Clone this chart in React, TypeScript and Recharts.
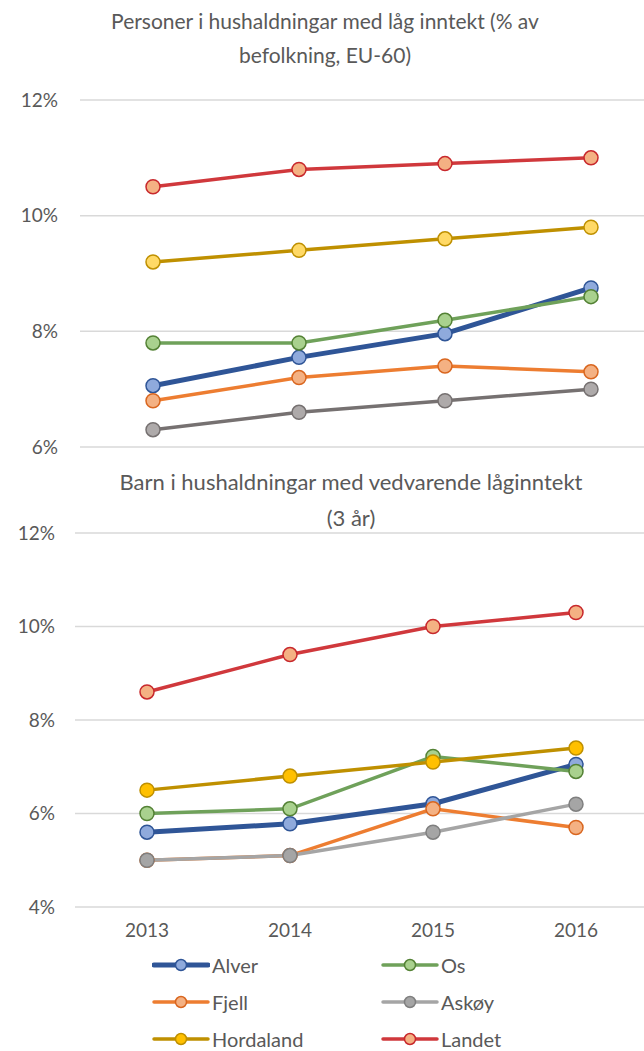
import { LineChart, Line, XAxis, YAxis, CartesianGrid } from 'recharts'

const years = ['2013', '2014', '2015', '2016']

// Personer i hushaldningar med låg inntekt (% av befolkning, EU-60)
const lowAlver = [7.06, 7.55, 7.96, 8.75]
const lowOs = [7.8, 7.8, 8.19, 8.6]
const lowFjell = [6.8, 7.2, 7.4, 7.3]
const lowAskoy = [6.3, 6.6, 6.8, 7.0]
const lowHordaland = [9.2, 9.4, 9.6, 9.8]
const lowLandet = [10.5, 10.8, 10.9, 11.0]

// Barn i hushaldningar med vedvarende låginntekt (3 år)
const kidsAlver = [5.6, 5.78, 6.21, 7.05]
const kidsOs = [6.0, 6.1, 7.22, 6.9]
const kidsFjell = [5.0, 5.1, 6.1, 5.7]
const kidsAskoy = [5.0, 5.1, 5.6, 6.2]
const kidsHordaland = [6.5, 6.8, 7.1, 7.4]
const kidsLandet = [8.6, 9.4, 10.0, 10.3]

const topTicks = [6, 8, 10, 12]
const bottomTicks = [4, 6, 8, 10, 12]

const FONT = "Lato, 'Open Sans', sans-serif"
const TEXT = '#595959'
const GRID = '#D9D9D9'

interface SeriesStyle {
  key: string
  line: string
  width: number
  fill: string
  stroke: string
}

const topStyles: SeriesStyle[] = [
  { key: 'Alver', line: '#2F5597', width: 5, fill: '#8FAADC', stroke: '#2F5597' },
  { key: 'Os', line: '#6FA15A', width: 3.5, fill: '#A9D18E', stroke: '#548235' },
  { key: 'Fjell', line: '#ED7D31', width: 3.5, fill: '#F4B183', stroke: '#D9661F' },
  { key: 'Askøy', line: '#767171', width: 3.5, fill: '#AEAAAA', stroke: '#767171' },
  { key: 'Hordaland', line: '#BF9000', width: 3.5, fill: '#FFD966', stroke: '#BF9000' },
  { key: 'Landet', line: '#D0383C', width: 3.5, fill: '#F4B183', stroke: '#C8282C' },
]

const bottomStyles: SeriesStyle[] = topStyles.map((s) => {
  if (s.key === 'Askøy') return { ...s, line: '#A5A5A5', fill: '#A5A5A5', stroke: '#7F7F7F' }
  if (s.key === 'Hordaland') return { ...s, fill: '#FFC000' }
  return s
})

const topData = years.map((year, i) => ({
  year,
  Alver: lowAlver[i],
  Os: lowOs[i],
  Fjell: lowFjell[i],
  'Askøy': lowAskoy[i],
  Hordaland: lowHordaland[i],
  Landet: lowLandet[i],
}))

const bottomData = years.map((year, i) => ({
  year,
  Alver: kidsAlver[i],
  Os: kidsOs[i],
  Fjell: kidsFjell[i],
  'Askøy': kidsAskoy[i],
  Hordaland: kidsHordaland[i],
  Landet: kidsLandet[i],
}))

const pct = (v: number) => `${v}%`

function renderLines(styles: SeriesStyle[]) {
  return styles.map((s) => (
    <Line
      key={s.key}
      dataKey={s.key}
      stroke={s.line}
      strokeWidth={s.width}
      dot={{ r: 7, fill: s.fill, stroke: s.stroke, strokeWidth: 1.5 }}
      isAnimationActive={false}
    />
  ))
}

const legendStyles: SeriesStyle[] = [
  topStyles[0],
  topStyles[1],
  topStyles[2],
  { ...bottomStyles[3] },
  { ...topStyles[4], fill: '#FFC000' },
  topStyles[5],
]

function LegendItem({ s }: { s: SeriesStyle }) {
  return (
    <div style={{ display: 'flex', alignItems: 'center', height: 20, lineHeight: '20px' }}>
      <svg width={58} height={16} style={{ marginRight: 2 }}>
        <line x1={2} y1={8} x2={56} y2={8} stroke={s.line} strokeWidth={s.width} strokeLinecap="round" />
        <circle cx={29} cy={8} r={5.5} fill={s.fill} stroke={s.stroke} strokeWidth={1.5} />
      </svg>
      <span>{s.key}</span>
    </div>
  )
}

export default function App() {
  const tick = { fill: TEXT, fontSize: 19, fontFamily: FONT }
  return (
    <div style={{ position: 'absolute', left: 0, top: 0, width: 644, height: 1051, overflow: 'hidden', background: '#fff', fontFamily: FONT, color: TEXT }}>
      <div style={{ position: 'absolute', left: 0, top: 4, width: 650, textAlign: 'center', fontSize: 21, lineHeight: '34px' }}>
        Personer i hushaldningar med låg inntekt (% av<br />befolkning, EU-60)
      </div>
      <div style={{ position: 'absolute', left: 0, top: 0 }}>
        <LineChart width={664} height={460} data={topData} margin={{ top: 100, right: 0, bottom: 13, left: 0 }}>
          <CartesianGrid vertical={false} stroke={GRID} strokeWidth={1.5} />
          <XAxis dataKey="year" hide height={0} padding={{ left: 73, right: 73 }} />
          <YAxis
            width={80}
            domain={[6, 12]}
            ticks={topTicks}
            tickFormatter={pct}
            axisLine={false}
            tickLine={false}
            tickSize={0}
            tickMargin={22}
            tick={tick}
          />
          {renderLines(topStyles)}
        </LineChart>
      </div>

      <div style={{ position: 'absolute', left: 51, top: 464, width: 600, textAlign: 'center', fontSize: 22, lineHeight: '36px' }}>
        Barn i hushaldningar med vedvarende låginntekt<br />(3 år)
      </div>
      <div style={{ position: 'absolute', left: 0, top: 460 }}>
        <LineChart width={648} height={490} data={bottomData} margin={{ top: 73, right: 0, bottom: 0, left: 0 }}>
          <CartesianGrid vertical={false} stroke={GRID} strokeWidth={1.5} />
          <XAxis
            dataKey="year"
            height={43}
            padding={{ left: 72, right: 72 }}
            axisLine={false}
            tickLine={false}
            tickSize={0}
            tickMargin={17}
            tick={tick}
          />
          <YAxis
            width={75}
            domain={[4, 12]}
            ticks={bottomTicks}
            tickFormatter={pct}
            axisLine={false}
            tickLine={false}
            tickSize={0}
            tickMargin={20}
            tick={tick}
          />
          {renderLines(bottomStyles)}
        </LineChart>
      </div>

      <div style={{ position: 'absolute', left: 152, top: 955, display: 'grid', gridTemplateColumns: '229px 200px', rowGap: 17, fontSize: 20 }}>
        {legendStyles.map((s) => (
          <LegendItem key={s.key} s={s} />
        ))}
      </div>
    </div>
  )
}
